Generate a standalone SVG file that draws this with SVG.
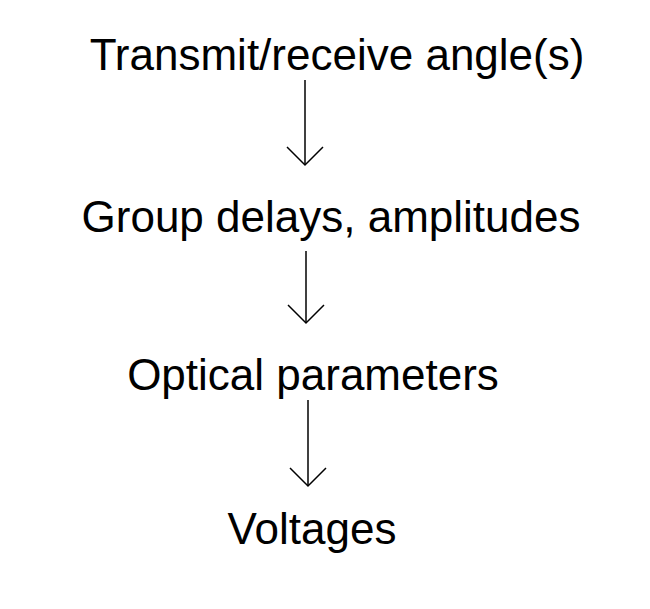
<svg xmlns="http://www.w3.org/2000/svg" width="650" height="609" viewBox="0 0 650 609">
  <style>
    .label { font-family: "Liberation Sans", Arial, sans-serif; font-size: 44px; fill: #000; text-anchor: middle; }
    .conn line, .conn polyline { stroke: #000; stroke-width: 1.5; fill: none; }
  </style>
  <rect width="650" height="609" fill="#fff"/>
  <g id="node-angles"><text class="label" x="337" y="70">Transmit/receive angle(s)</text></g>
  <g id="node-delays"><text class="label" x="331" y="232">Group delays, amplitudes</text></g>
  <g id="node-optical"><text class="label" x="313" y="390">Optical parameters</text></g>
  <g id="node-voltages"><text class="label" x="312" y="544">Voltages</text></g>
  <g class="conn" id="connectors">
    <line x1="305" y1="80" x2="305" y2="165"/>
    <polyline points="287,147 305,165 323,147"/>
    <line x1="306" y1="251" x2="306" y2="323"/>
    <polyline points="288,305 306,323 324,305"/>
    <line x1="308" y1="400" x2="308" y2="486"/>
    <polyline points="290,468 308,486 326,468"/>
  </g>
</svg>
